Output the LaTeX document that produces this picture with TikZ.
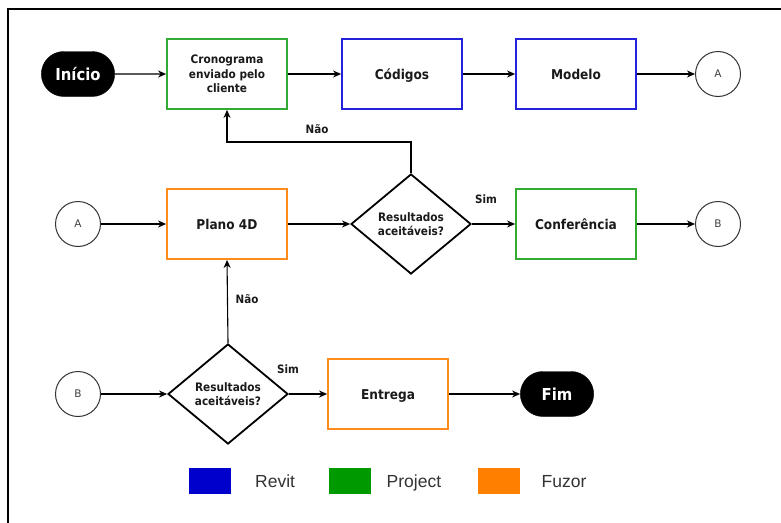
\documentclass[tikz,border=0pt]{standalone}
\usepackage{fontspec}
\setmainfont{DejaVu Sans Condensed}
\newfontfamily\legendfont{Liberation Sans}
\newfontfamily\circfont{DejaVu Sans}
\usetikzlibrary{arrows.meta,shapes.geometric,shapes.misc}
\definecolor{revitblue}{HTML}{0000CC}
\definecolor{projgreen}{HTML}{009900}
\definecolor{fuzorange}{HTML}{FF8000}
\definecolor{bordblue}{HTML}{2222DD}
\definecolor{bordgreen}{HTML}{33AA33}
\definecolor{bordorange}{HTML}{FF8C1A}
\definecolor{txt}{HTML}{1A1A1A}
\tikzset{
  procbox/.style={rectangle, line width=1.8pt, minimum width=120pt, minimum height=70pt,
    inner sep=2pt, align=center, text=txt, font=\fontsize{13.5}{16}\selectfont\bfseries},
  onel/.style={text height=10pt, text depth=0pt},
  bluebox/.style={procbox, draw=bordblue},
  greenbox/.style={procbox, draw=bordgreen},
  orangebox/.style={procbox, draw=bordorange},
  pill/.style={rounded rectangle, fill=black, draw=black, minimum width=80pt, minimum height=45pt,
    text=white, font=\fontsize{16.5}{18}\selectfont\bfseries, text height=12pt, text depth=0pt},
  conn/.style={circle, draw=black!80, line width=1pt, minimum size=45pt, inner sep=0pt,
    text=black!75, font=\circfont\fontsize{10.5}{12}\selectfont},
  decis/.style={diamond, draw=black, line width=1.8pt, minimum width=120pt, minimum height=100pt,
    inner sep=0pt, align=center, text=txt, font=\fontsize{11.7}{14.5}\selectfont\bfseries},
  arr/.style={-{Stealth[length=8pt,width=7pt,inset=2.5pt]}, line width=1.1pt, draw=black},
  lbl/.style={text=txt, font=\fontsize{11.5}{14}\selectfont\bfseries},
  legsq/.style={rectangle, minimum width=42pt, minimum height=26pt, inner sep=0pt},
  legtxt/.style={text=black!80, font=\legendfont\fontsize{17.5}{20}\selectfont, anchor=base west, inner sep=0pt}
}
\begin{document}
\begin{tikzpicture}[x=1pt,y=-1pt]
\useasboundingbox (0,0) rectangle (781,522);
\fill[white] (0,0) rectangle (781,522);
\draw[line width=1.2pt] (8,530) -- (8,9) -- (790,9);

% row 1
\node[pill] (ini) at (78,74) {Início};
\node[greenbox, font=\fontsize{11.7}{14.5}\selectfont\bfseries] (cron) at (227,74) {Cronograma\\enviado pelo\\cliente};
\node[bluebox, onel] (cod) at (402,74) {Códigos};
\node[bluebox, onel] (mod) at (576,74) {Modelo};
\node[conn] (a1) at (718,74) {A};

% row 2
\node[conn] (a2) at (78,224) {A};
\node[orangebox, onel] (plano) at (227,224) {Plano 4D};
\node[decis] (d1) at (411,224) {Resultados\\aceitáveis?};
\node[greenbox, onel] (conf) at (576,224) {Conferência};
\node[conn] (b1) at (718,224) {B};

% row 3
\node[conn] (b2) at (78,394) {B};
\node[decis] (d2) at (228,394) {Resultados\\aceitáveis?};
\node[orangebox, onel] (ent) at (388,394) {Entrega};
\node[pill] (fim) at (557,394) {Fim};

% connectors
\draw[arr] (ini) -- (cron);
\draw[arr] (cron) -- (cod);
\draw[arr] (cod) -- (mod);
\draw[arr] (mod) -- (a1);
\draw[arr] (a2) -- (plano);
\draw[arr] (plano) -- (d1.west);
\draw[arr] (d1.east) -- (conf);
\draw[arr] (conf) -- (b1);
\coordinate (u1) at (411,142);
\coordinate (u2) at (227,142);
\draw[arr] (d1.north) -- (u1) -- (u2) -- (cron.south);
\draw[arr] (b2) -- (d2.west);
\draw[arr] (d2.east) -- (ent);
\draw[arr] (ent) -- (fim);
\draw[arr] (d2.north) -- (plano.south);

% labels
\node[lbl] (n1) at (317,129) {Não};
\node[lbl] (s1) at (486,199) {Sim};
\node[lbl] (n2) at (247,299) {Não};
\node[lbl] (s2) at (288,369) {Sim};

% legend
\node[legsq, fill=revitblue] (lb) at (210,481) {};
\node[legtxt] (lbt) at (255,487) {Revit};
\node[legsq, fill=projgreen] (lg) at (349.5,481) {};
\node[legtxt] (lgt) at (386.5,487) {Project};
\node[legsq, fill=fuzorange] (lo) at (499,481) {};
\node[legtxt] (lot) at (541.5,487) {Fuzor};
\end{tikzpicture}
\end{document}
